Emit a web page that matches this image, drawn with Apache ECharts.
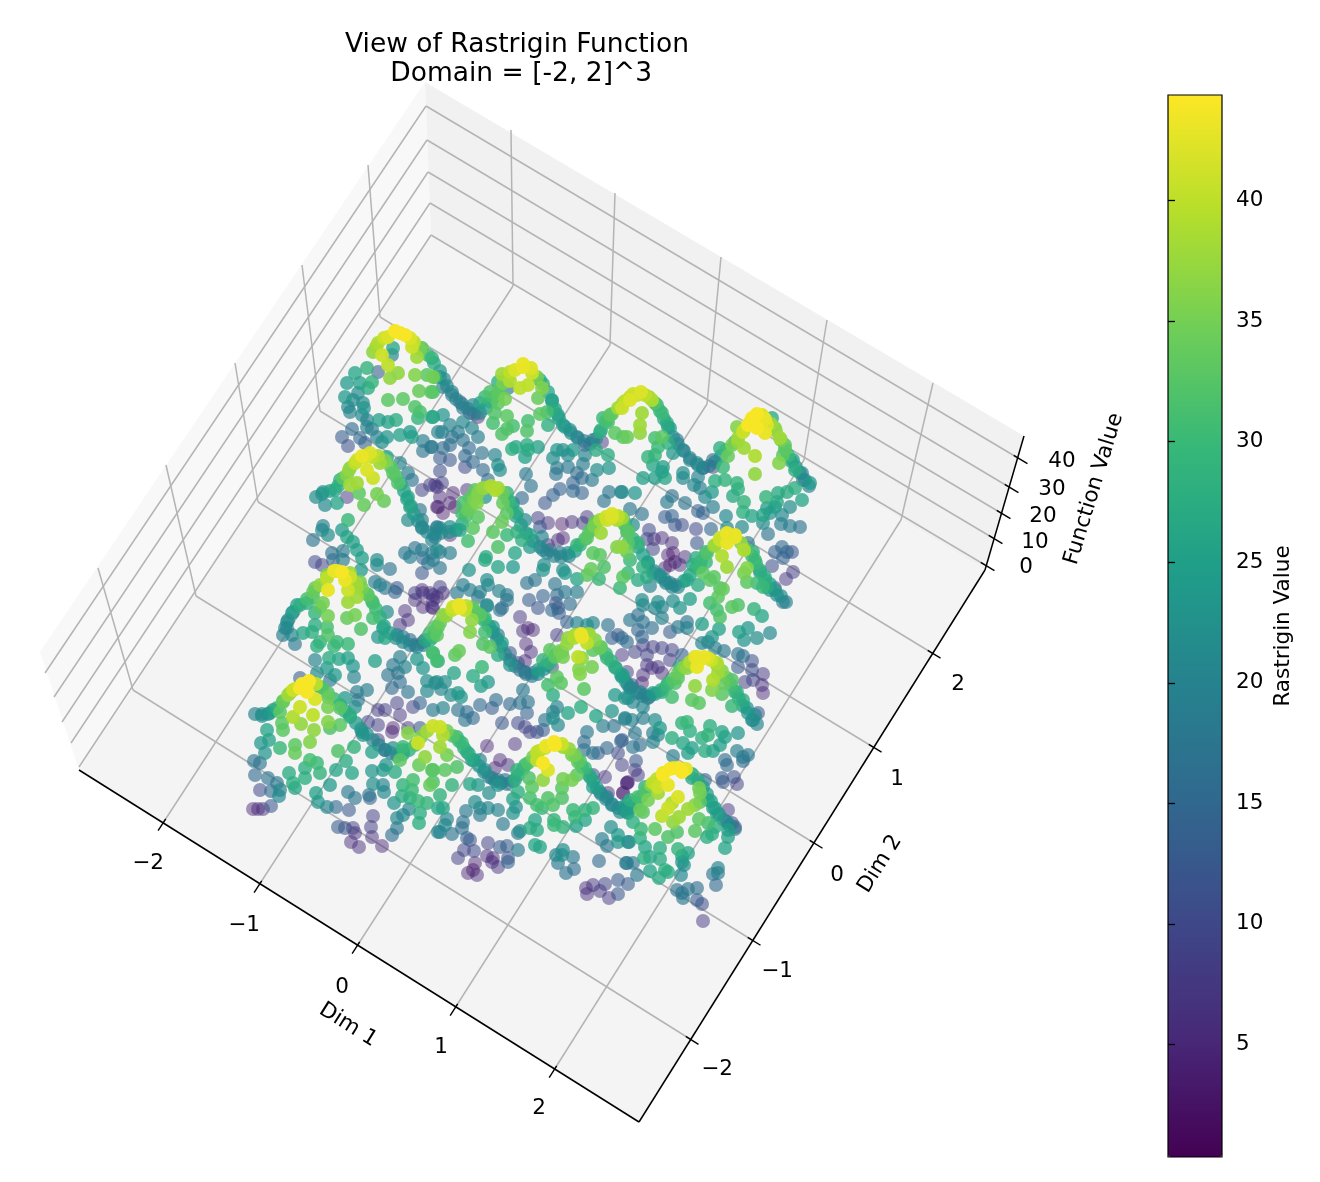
<!DOCTYPE html>
<html>
<head>
<meta charset="utf-8">
<title>Rastrigin</title>
<script src="https://cdn.jsdelivr.net/npm/echarts@6/dist/echarts.min.js"></script>
<style>
html, body { margin: 0; padding: 0; background: #fff; }
#main { width: 1320px; height: 1182px; }
</style>
</head>
<body>
<div id="main"></div>
<script>
// points: [view x, view y, function value]
let pointsTopLeft = [
[400,333,44],[388,337,42],[410,338,42],[378,343,39],[412,347,41],[373,352,37],[382,355,41],[388,365,40],[393,348,26],[392,355,20],[398,373,37],[390,378,37],[417,357,38],[422,348,33],[432,358,28],[415,375,36],[427,375,33],[435,377,30],[419,391,34],[431,392,33],[388,400,33],[403,399,33],[415,407,32],[420,412,31],[418,418,29],[432,417,27],[367,368,29],[355,373,26],[347,383,24],[360,383,25],[372,382,29],[368,388,27],[358,393,22],[345,397,24],[353,400,21],[363,403,22],[348,407,21],[364,408,23],[350,412,20],[362,415,21],[379,420,25],[388,422,25],[396,420,27],[367,420,20],[367,427,20],[372,429,18],[352,429,16],[342,437,13],[348,446,11],[360,438,15],[365,443,14],[377,437,20],[382,442,22],[387,437,23],[400,435,25],[410,432,24],[412,437,25],[423,441,19],[431,447,17],[423,451,17],[438,432,20],[378,372,13],
[365,457,42],[372,457,40],[357,460,41],[380,463,38],[367,470,42],[350,468,37],[347,475,36],[357,483,38],[350,485,38],[373,478,41],[340,480,28],[393,473,33],[398,483,32],[387,457,26],[400,463,20],[408,473,19],[412,480,17],[335,490,26],[323,492,22],[316,497,22],[325,505,21],[337,503,26],[347,497,7],[359,493,33],[377,494,35],[384,501,34],[364,505,34],[348,520,30],[323,526,20],[408,497,26],[410,507,26],[420,510,17],[408,520,22],[422,520,19],[430,485,8],[422,490,9],[437,487,7],[438,507,4],[437,527,15]
];
let pointsTopMid = [
[523,367,43],[510,372,40],[502,374,38],[532,373,41],[510,381,39],[528,385,40],[520,388,40],[542,388,36],[538,398,34],[498,382,28],[508,388,18],[540,380,26],[498,395,33],[490,392,32],[485,397,30],[505,399,35],[498,403,33],[495,413,32],[507,416,33],[493,423,31],[528,421,31],[527,431,32],[513,426,31],[507,429,32],[502,434,32],[540,414,33],[547,412,31],[480,403,25],[473,405,20],[463,408,17],[470,413,11],[478,417,5],[452,395,17],[443,387,19],[440,377,20],[433,377,35],[433,392,31],[460,402,12],[552,400,25],[553,410,27],[548,425,28],[558,415,25],[563,425,24],[570,430,21],[577,437,18],[585,445,8],[593,440,14],[602,442,7],[600,432,28],[608,422,31],[610,415,33],[603,418,30],[615,433,33],[627,437,34],[622,408,41],[630,400,42],[596,450,27],[608,455,27],[557,450,23],[563,450,22],[553,458,22],[568,455,21],[573,450,24],[585,455,20],[583,464,19],[568,467,18],[557,468,18],[556,474,17],[577,473,15],[582,478,16],[592,480,18],[597,470,22],[609,468,23],[573,483,14],[560,489,14],[553,495,14],[545,503,12],[573,491,15],[582,493,14],[609,492,18],[621,492,19],[604,501,17],
[463,422,21],[443,415,23],[433,417,24],[450,425,20],[442,432,19],[458,432,18],[472,428,20],[478,437,19],[452,437,17],[463,440,17],[450,445,16],[443,448,16],[469,448,15],[432,447,18],[465,456,15],[440,458,13],[450,460,12],[473,462,15],[465,467,10],[440,471,11],[483,470,15],[488,480,16],[482,453,17],[495,455,20],[498,465,22],[500,470,22],[512,449,28],[516,447,26],[527,445,27],[525,457,25],[538,447,25],[528,450,27],[526,474,18],[531,486,17]
];
let pointsHumpRow2Mid = [
[435,485,6],[442,483,8],[440,497,5],[453,493,4],[437,507,4],[450,503,4],[443,513,3],[455,507,3],[467,490,6],[483,488,37],[495,490,39],[475,490,33],[470,498,33],[463,503,31],[477,503,36],[462,513,31],[468,510,34],[478,517,33],[473,528,33],[460,530,25],[450,527,22],[440,528,21],[435,537,19],[450,535,4],[507,493,28],[503,503,34],[507,513,33],[502,522,34],[485,497,24],[493,532,33],[468,541,31],[507,535,30],[498,547,32],[486,557,27],[515,553,26],[522,498,15],[513,503,22],[517,513,26],[525,520,21],[538,518,8],[548,523,6],[562,524,3],[572,522,6],[587,517,7],[540,527,12],[517,532,28],[530,535,26],[522,540,28],[542,537,20],[548,545,4],[558,540,6],[563,538,4],[550,550,15],[560,553,20],[568,553,22],[543,550,20],[530,547,24],[577,545,29],[587,538,33],[583,523,8],[595,522,33],[591,530,28],[601,533,38],[612,517,42],[607,520,41],[617,520,39],[623,518,30],[627,532,31],[617,547,36],[593,553,33],[600,555,33],[440,552,17],[450,553,19],[432,553,17]
];
let pointsTopRight = [
[637,395,41],[645,395,40],[630,397,40],[652,400,39],[623,403,38],[657,405,28],[642,413,38],[640,425,38],[640,433,37],[623,437,33],[662,413,30],[667,423,27],[670,428,25],[677,440,17],[655,438,31],[662,437,33],[658,447,30],[668,443,28],[648,457,29],[655,455,29],[653,465,26],[663,467,25],[662,472,24],[643,478,25],[655,478,25],[665,478,26],[683,473,22],[683,478,21],[698,477,20],[694,485,21],[700,488,19],[673,453,24],[683,450,20],[690,460,20],[698,465,21],[703,468,16],[713,460,17],[713,467,7],[720,448,28],[728,456,34],[723,467,30],[735,442,24],[738,442,37],[744,448,38],[755,456,39],[755,474,37],
[752,418,44],[762,415,42],[748,425,44],[757,428,44],[765,433,43],[767,425,42],[743,432,41],[737,427,36],[772,418,27],[775,428,36],[780,438,38],[785,445,33],[783,455,33],[779,463,36],[793,460,25],[795,470,28],[802,473,20],[810,483,24],[803,480,14],[795,488,28],[778,493,27],[787,492,27],[766,497,29],[777,502,26],[802,500,26],[790,507,22],[767,508,24],[775,507,25],[770,513,23],[782,515,21],[763,515,26],[763,523,22],[781,524,19],[790,526,19],[800,527,17],[768,534,17],
[715,481,28],[725,480,29],[737,483,29],[738,489,28],[712,492,24],[705,497,21],[733,496,27],[744,502,29],[713,507,19],[743,512,28],[752,516,26],[726,516,21],[727,528,22],[742,527,21],[698,511,14],[703,513,14],[685,503,17],[667,502,18],[672,496,17],[630,509,18],[642,514,17],[635,493,23],[622,492,22],[665,517,13],[672,516,14],[675,525,12],[682,525,11],[696,529,10],[711,529,15],[697,543,12],[649,530,10],[647,539,9],[654,539,6],[662,538,6],[672,543,6],[653,549,9],[668,555,4],[673,553,3],[685,557,6],[675,562,3],[670,565,4],[665,568,4],[680,565,6]
];
let pointsHumpRow2Right = [
[727,535,42],[735,537,43],[720,540,41],[727,543,43],[715,545,38],[722,556,39],[744,550,39],[727,567,38],[706,552,30],[706,562,30],[696,558,28],[700,567,30],[703,573,33],[747,568,36],[744,573,35],[755,560,30],[753,552,28],[748,543,18],[710,580,33],[714,577,33],[698,585,27],[747,582,33],[757,583,30],[765,580,28],[760,572,24],[720,588,32],[767,587,27],[775,588,7],[775,552,14],[782,547,15],[787,552,14],[792,552,12],[783,558,14],[772,566,11],[793,572,8],[786,579,7],
[643,567,28],[648,562,25],[653,573,23],[660,575,22],[647,577,27],[665,580,21],[670,583,20],[675,585,18],[687,580,26],[693,565,26],[630,560,30],[638,580,27],[650,586,20],[622,547,37],[628,543,33],[628,532,33],[638,543,29],[622,518,38],[633,525,22],[625,525,27],[627,552,34]
];
let pointsMidLeft = [
[313,540,17],[322,530,21],[328,535,22],[342,530,24],[347,537,26],[353,542,25],[357,550,25],[332,553,17],[343,551,19],[362,558,25],[343,560,19],[333,560,15],[315,562,10],[322,565,8],[361,570,24],[377,560,22],[377,565,21],[390,569,17],[405,553,18],[410,557,19],[415,548,17],[422,550,19],[423,558,15],[428,563,17],[422,573,12],[433,560,19],[437,550,22],[432,540,20],[437,528,20],[422,528,20],
[337,571,43],[327,575,36],[350,573,38],[345,580,43],[328,590,43],[315,588,34],[348,590,41],[357,587,38],[360,582,35],[313,597,31],[323,603,35],[348,602,38],[320,607,33],[357,597,38],[368,595,33],[373,603,31],[307,603,28],[297,605,25],[315,613,29],[328,616,35],[347,618,34],[355,615,35],[361,629,32],[373,618,31],[292,613,21],[287,622,20],[287,628,20],[292,635,21],[283,635,19],[295,644,18],[303,633,26],[312,632,28],[315,625,27],[327,627,31],[328,635,32],[320,642,29],[317,646,28],[337,642,30],[334,646,30],[348,644,30],[315,660,20],[329,658,27],[339,659,26],[348,658,25],[353,666,23],[354,677,20],[327,668,24],[335,675,24],[317,673,22],[330,680,18],[375,661,25],
[375,582,19],[385,588,17],[395,592,14],[397,588,13],[380,585,20],[387,612,22],[383,628,25],[378,637,23],[385,638,26],[400,625,7],[405,611,6],[408,620,6],[415,593,8],[422,590,6],[430,593,7],[437,597,6],[415,600,6],[423,607,5],[432,607,6],[433,600,7],[423,593,6],[397,635,20],[403,637,19],[410,640,16],[415,645,14],[423,642,8],[430,633,31],[435,627,33],[425,640,26],[437,635,33],[433,653,31],[437,661,31],[417,659,24],[423,668,23],[400,657,19],[393,665,18],[405,667,20],[388,675,17],[398,673,17],[400,682,16],[392,688,15],[408,692,17],[427,681,22],[427,691,21],[437,682,22]
];
let pointsHumpRow4Left = [
[308,683,44],[300,688,44],[307,692,44],[293,690,41],[290,693,38],[315,699,42],[320,687,30],[283,702,34],[300,707,41],[280,712,33],[293,717,39],[313,715,40],[273,710,25],[262,714,22],[268,714,22],[301,724,37],[328,697,34],[328,707,35],[328,722,36],[314,730,37],[340,708,33],[340,725,33],[282,723,33],[283,730,33],[267,730,26],[300,678,13],[350,715,28],[330,728,32],[357,692,19],[367,690,19],[358,700,17],[355,707,22],[345,698,24],[378,710,8],[385,710,8],[400,715,7],[413,707,9],[420,703,14],[397,703,8],[393,728,4],[378,725,8],[368,722,9],[362,732,20],[408,728,7],[420,728,12],[433,710,18]
];
let pointsMidCentre = [
[460,608,43],[453,607,41],[465,610,40],[473,607,33],[443,615,36],[472,620,37],[480,615,33],[485,618,30],[438,627,33],[470,632,36],[485,632,31],[493,627,24],[433,637,30],[498,635,18],[487,605,22],[478,597,16],[500,610,17],[483,644,32],[490,647,33],[502,643,25],[498,655,27],[510,653,12],[510,665,23],[518,663,10],[525,672,17],[532,673,14],[538,670,25],[547,665,20],[543,660,29],[552,667,8],[555,655,33],[550,650,33],[562,652,33],[563,657,35],[557,677,33],[561,683,33],[548,685,31],[553,695,27],[455,655,33],[459,651,34],[433,653,31],[438,661,27],[482,667,30],[473,676,27],[488,682,24],[481,686,25],[454,673,26],[435,683,21],[445,682,22],[441,689,20],[458,693,24],[451,695,22],[461,697,23],[523,690,18],[496,700,16],[510,704,15],[480,705,15],[492,708,13],[520,703,17],[528,702,17],[527,713,14],[467,712,16],[458,710,17],[443,708,20],[465,720,17],[473,718,15],[502,723,12],[518,723,10],[525,727,9],[530,732,9],[537,732,11],[543,730,13],[545,720,17],[553,712,20],[557,707,20],[553,718,22],[558,725,21],[568,713,26],[581,707,28],[596,716,26],[612,711,23],[625,719,20],[628,698,22],[615,695,24],[603,726,19],[614,726,17],[587,732,18],[584,742,15],[584,750,17],[621,741,14],[607,748,15],[598,753,13],[593,753,17],[618,753,10],[515,744,6],[487,746,5],[500,760,5],
[485,560,27],[469,570,23],[498,567,26],[513,567,24],[487,580,22],[488,585,20],[463,585,19],[470,590,19],[457,593,18],[480,592,20],[499,591,20],[507,595,18],[507,600,17],[502,608,14],[487,606,20],[440,568,17],[440,587,8],[443,593,6],[433,595,5],[433,608,5],[527,583,17],[535,580,17],[529,600,13],[543,596,14],[538,608,12],[520,617,7],[523,631,6],[528,628,3],[533,630,5],[526,644,5],[531,652,6],[525,661,5],[555,584,17],[565,592,18],[557,595,15],[556,603,11],[552,610,15],[558,608,13],[570,604,16],[577,592,19],[559,613,13],[567,622,14],[577,623,20],[593,623,20],[608,625,17],[587,625,22],[557,635,8],[543,570,23],[544,565,22],[563,570,22],[565,573,24],[577,579,26],[587,575,33],[591,569,34],[599,579,30],[604,567,32],[620,588,30],[623,577,33],[628,573,30],
[582,637,43],[575,635,38],[568,638,37],[589,635,36],[587,643,40],[593,650,33],[600,648,34],[578,657,40],[582,658,37],[579,669,36],[580,674,36],[592,667,35],[584,689,33],[607,658,29],[615,667,27],[622,677,25],[628,685,20],[612,638,14],[618,635,12],[622,638,15],[627,672,7],[622,655,7],[627,642,16]
];
let pointsMidRight = [
[642,600,22],[643,605,21],[658,602,22],[655,608,21],[662,607,20],[680,608,23],[690,599,25],[673,601,22],[630,620,18],[638,615,16],[643,622,17],[652,628,16],[662,618,20],[638,630,14],[642,637,15],[678,627,18],[687,622,17],[687,628,20],[702,624,25],[670,632,13],[719,629,25],[712,637,23],[702,643,21],[708,642,20],[715,648,19],[724,651,18],[710,603,31],[717,610,31],[720,617,32],[732,607,33],[738,605,32],[754,609,29],[762,616,26],[739,632,25],[748,628,24],[744,640,23],[757,638,22],[770,633,21],[738,654,17],[743,656,16],[752,661,11],[738,667,13],[763,674,7],[752,670,11],[745,682,8],[753,680,9],[762,685,6],[763,693,5],[723,589,34],[718,597,33],[783,602,17],[777,595,22],[770,590,22],[763,587,30],
[695,657,42],[700,660,43],[708,658,42],[697,667,43],[717,663,39],[687,668,37],[680,667,27],[718,673,38],[713,680,39],[695,686,37],[712,690,36],[723,683,34],[722,694,33],[732,680,32],[737,692,28],[743,700,27],[747,708,24],[755,715,20],[758,713,13],[753,720,22],[732,706,30],[692,700,33],[699,703,33],[678,678,33],[675,683,32],[668,683,30],[672,697,31],[662,692,27],[653,693,24],[645,695,18],[640,692,20],[648,698,14],[630,688,17],[623,675,25],[632,685,12],[635,652,9],[643,645,8],[653,647,8],[662,648,9],[672,650,9],[670,660,8],[682,655,14],[647,655,9],[647,665,7],[652,668,5],[658,667,7],[662,673,5],[643,675,6],[642,683,4],
[625,698,23],[633,702,20],[643,707,21],[625,718,20],[632,720,20],[643,718,19],[655,720,22],[660,728,24],[635,733,18],[653,733,19],[658,735,21],[653,742,20],[672,738,28],[682,723,29],[687,722,30],[690,731,28],[710,726,28],[702,738,28],[708,735,29],[722,732,26],[725,737,25],[738,733,23],[720,745,25],[713,751,25],[705,751,27],[683,743,26],[692,748,25],[688,753,25],[737,751,19],[743,757,18],[748,755,18],[743,761,16],[725,760,16],[727,765,15],[673,756,19],[633,747,17],[640,745,16],[636,761,12],[622,740,13],[622,765,8],[635,770,7],[638,775,8],[722,778,13],[723,782,12],[734,777,11],[737,784,8],[627,783,4]
];
let pointsBottomRight = [
[682,772,44],[673,768,42],[663,775,44],[668,785,43],[653,783,40],[658,787,41],[658,793,38],[648,800,35],[678,797,42],[672,803,39],[668,808,41],[662,816,40],[673,822,37],[679,817,38],[688,809,38],[695,805,36],[700,802,33],[699,788,35],[700,793,35],[692,778,26],[705,780,15],[708,800,26],[713,808,25],[717,815,25],[727,822,20],[732,823,12],[735,827,8],[728,810,7],[699,819,33],[708,823,31],[715,827,28],[707,837,28],[695,831,33],[712,834,27],[728,830,25],[728,837,25],[677,832,32],[668,837,32],[655,829,33],[641,829,30],[640,810,34],[643,812,33],[633,822,28],[627,812,25],[638,797,31],[645,787,28],[630,800,28],[623,807,23],[623,793,4],[628,782,5],[640,838,28],[629,842,22],[645,847,26],[660,848,28],[678,849,29],[688,853,26],[682,856,25],[725,848,26],[644,858,28],[660,859,27],[650,857,26],[682,862,23],[684,865,22],[626,863,18],[633,863,17],[650,871,26],[665,870,28],[668,872,27],[659,878,27],[681,875,21],[637,875,18],[628,884,13],[718,868,20],[718,873,19],[713,874,17],[716,885,15],[677,890,17],[688,889,17],[697,888,16],[682,893,16],[683,898,18],[697,900,13],[702,904,11],[703,921,7]
];
let pointsBottomMid = [
[555,745,44],[545,748,41],[537,752,40],[543,763,44],[548,770,42],[563,747,38],[537,760,40],[543,780,37],[572,755,35],[578,762,33],[582,767,30],[577,775,33],[563,779,35],[562,788,33],[572,780,35],[562,798,32],[548,798,32],[530,798,31],[553,805,32],[537,805,31],[542,808,30],[529,778,32],[532,787,33],[525,765,30],[517,770,29],[515,780,28],[518,792,28],[513,799,25],[516,807,22],[513,813,23],[590,777,26],[593,787,25],[600,792,18],[607,797,19],[612,805,21],[620,812,22],[628,803,24],[628,813,24],[593,775,10],[605,777,7],[608,793,5],[623,793,4],[627,783,5],[593,808,29],[585,810,29],[573,810,30],[575,817,30],[585,820,26],[554,820,29],[554,825,30],[563,827,29],[576,826,25],[535,820,26],[530,828,27],[537,830,27],[520,831,22],[518,833,19],[611,827,22],[618,835,24],[602,839,19],[607,846,18],[618,842,23],[628,842,21],[535,845,26],[540,847,26],[563,850,22],[556,855,21],[562,855,22],[573,857,18],[558,863,18],[566,873,17],[574,869,16],[599,861,15],[627,863,19],[618,880,13],[605,884,9],[593,885,7],[586,888,6],[587,894,6],[600,891,7],[609,898,7],[618,894,12],
[443,735,39],[440,747,38],[447,755,35],[457,737,30],[462,743,30],[467,752,28],[472,760,26],[480,760,20],[485,770,22],[492,778,18],[498,780,20],[505,780,15],[445,770,33],[457,767,32],[433,770,32],[433,782,32],[452,785,29],[440,795,29],[443,808,26],[470,784,26],[478,785,24],[489,793,22],[498,785,23],[508,765,6],[495,768,4],[475,802,22],[480,808,20],[488,808,21],[498,810,20],[480,815,18],[466,811,18],[447,819,20],[445,825,21],[440,832,19],[452,834,17],[463,822,17],[462,828,16],[467,838,14],[470,840,11],[503,824,18],[488,843,9],[500,847,13],[507,846,13],[518,850,19],[464,850,9],[474,851,10],[458,858,8],[487,856,6],[493,858,5],[498,867,7],[492,862,5],[508,862,14],[508,858,11],[475,863,4],[473,870,3],[477,875,5],[468,873,4]
];
let pointsBottomLeft = [
[261,743,23],[269,740,25],[265,753,23],[280,748,30],[295,745,33],[295,753,34],[310,742,36],[338,751,32],[354,747,29],[310,760,31],[317,763,30],[305,768,28],[305,778,28],[320,773,29],[289,773,27],[295,788,26],[293,783,28],[336,770,26],[346,761,27],[352,773,26],[330,785,24],[254,761,17],[260,763,17],[255,775,15],[268,778,17],[277,783,18],[260,790,10],[271,791,16],[280,790,21],[279,796,21],[253,809,5],[258,809,5],[263,809,6],[271,806,12],[316,793,25],[318,802,23],[327,807,20],[336,807,15],[349,810,12],[348,792,18],[355,798,17],[369,795,17],[370,798,14],[338,827,13],[345,828,11],[355,833,6],[353,828,8],[351,842,6],[359,847,6],[373,816,8],[371,827,8],[372,837,6],[382,846,5],[392,835,16],[397,828,18],[397,818,20],[403,815,21],[409,809,21],[394,803,23],[420,813,28],[419,823,28],[372,771,23],[383,770,24],[386,765,23],[395,772,27],[373,784,22],[383,785,20],[384,792,21],[403,785,29],[413,780,31],[412,790,30],[402,796,27],[410,798,28],[418,801,30],[427,803,29],[438,808,26],[438,832,21],[430,785,34],[432,770,33],[419,765,34],[425,757,37],[400,760,33],[403,750,28],[372,752,25],[363,735,23],[418,743,41],[403,747,30],[393,748,22],[408,733,36],[385,750,18],[378,740,8],[392,732,5]
];
// the dense crests that run across the picture, one list per row of humps
let crestRow1 = [
[405,335,44],[395,331,44],[384,338,41],[376,347,38],[414,342,40],[420,349,35],[428,355,30],[434,363,27],[440,371,23],[444,379,22],[447,386,21],[452,392,20],[456,399,20],[462,404,20],[468,409,19],[474,414,17],[480,413,20],[486,408,24],[491,402,28],[494,397,31],[499,390,33],[503,383,35],[508,376,38],[515,370,42],[523,364,43],[531,368,42],[537,377,35],[543,384,28],[548,392,26],[552,401,25],[555,409,26],[559,418,25],[565,427,23],[571,433,22],[578,438,20],[584,441,19],[590,444,18],[596,439,21],[601,430,26],[606,421,31],[612,414,33],[618,408,38],[625,401,40],[633,394,41],[641,392,42],[649,397,38],[655,403,32],[660,411,30],[664,419,27],[668,427,24],[673,437,22],[678,444,21],[684,451,20],[690,458,20],[697,463,20],[703,468,19],[709,466,18],[715,462,19],[721,456,23],[726,450,30],[732,445,35],[738,438,38],[744,430,41],[750,422,44],[757,414,44],[765,419,43],[771,424,38],[776,431,37],[781,440,35],[785,449,33],[788,455,30],[791,461,26],[796,467,24],[800,473,22],[805,480,21],[809,486,20]
];
let crestRow2 = [
[322,494,23],[330,491,25],[338,486,28],[343,478,33],[349,470,37],[355,463,40],[362,456,43],[370,453,42],[378,456,39],[385,461,36],[391,467,33],[396,476,31],[401,484,27],[404,491,25],[407,499,25],[411,506,24],[414,514,24],[418,521,22],[422,527,21],[427,532,21],[434,534,20],[441,533,21],[449,532,22],[456,530,23],[462,524,26],[466,516,31],[470,508,34],[474,500,35],[478,493,36],[484,488,37],[491,486,39],[498,488,38],[503,493,34],[508,500,30],[512,507,28],[516,516,26],[521,525,24],[526,533,23],[533,541,22],[540,547,21],[547,553,20],[554,556,20],[561,557,20],[569,556,21],[575,551,24],[580,545,29],[585,539,31],[589,532,33],[594,526,35],[600,520,38],[606,517,41],[612,514,42],[618,516,40],[623,522,33],[628,530,31],[633,539,28],[638,547,26],[643,555,25],[648,563,23],[654,571,22],[660,577,21],[666,583,21],[672,587,20],[678,587,21],[684,581,24],[690,575,26],[696,568,29],[701,561,30],[707,553,32],[714,546,36],[720,538,41],[727,533,43],[735,535,43],[741,543,37],[747,550,32],[752,556,30],[756,563,30],[760,570,28],[765,577,27],[770,584,25],[775,590,24],[781,596,22],[786,602,20]
];
let crestRow3 = [
[285,628,21],[288,620,22],[293,612,25],[300,605,28],[307,599,31],[313,592,34],[320,585,37],[327,578,40],[334,571,43],[342,572,44],[350,577,41],[356,583,38],[362,588,35],[367,594,33],[372,601,31],[376,609,30],[380,617,28],[384,626,26],[390,633,23],[396,638,22],[403,642,21],[410,645,20],[417,647,19],[424,645,21],[430,640,27],[435,632,31],[440,623,34],[446,616,37],[452,610,40],[459,605,43],[466,606,40],[473,610,33],[479,614,30],[484,620,27],[489,626,25],[493,632,23],[497,639,22],[501,646,21],[505,654,20],[510,660,19],[515,666,18],[520,670,17],[526,674,18],[532,676,19],[538,674,21],[544,669,24],[550,663,29],[555,657,33],[560,651,35],[567,644,37],[574,638,39],[581,634,43],[589,634,38],[595,640,36],[601,647,32],[606,654,30],[611,661,28],[616,668,26],[621,675,24],[626,682,22],[631,688,21],[637,693,20],[643,696,19],[649,697,20],[655,694,23],[661,690,27],[667,685,30],[673,679,32],[678,673,34],[684,667,36],[690,662,39],[697,657,43],[704,657,43],[711,660,41],[717,665,38],[722,671,36],[727,678,33],[731,685,31],[735,692,29],[739,699,27],[743,706,25],[748,713,23],[752,720,21],[757,724,20]
];
let crestRow4 = [
[255,714,20],[262,716,22],[270,713,24],[277,708,28],[283,701,33],[288,695,38],[295,689,41],[302,684,44],[309,681,44],[316,684,40],[322,688,32],[328,693,32],[334,699,30],[340,705,28],[345,711,27],[350,717,26],[356,723,24],[361,729,23],[367,734,22],[373,740,21],[379,745,20],[385,750,19],[391,753,19],[397,756,20],[403,754,24],[409,750,28],[415,745,32],[421,737,36],[427,731,38],[433,726,41],[440,727,41],[447,731,35],[453,736,32],[459,741,30],[464,748,28],[469,754,27],[474,760,25],[479,766,23],[484,772,21],[489,777,20],[495,781,19],[501,783,18],[507,784,19],[513,781,21],[518,775,25],[523,769,29],[528,763,32],[533,757,35],[539,751,40],[546,746,43],[554,742,44],[562,744,41],[569,749,37],[575,755,35],[580,761,32],[585,768,30],[589,775,27],[593,781,25],[597,788,24],[601,794,22],[606,799,21],[612,804,20],[618,808,20],[624,810,19],[630,808,22],[636,803,27],[641,797,30],[646,791,32],[651,785,36],[657,779,40],[663,773,43],[670,769,44],[678,768,44],[686,769,43],[692,774,28],[698,780,26],[703,787,25],[707,794,24],[711,801,25],[715,808,24],[719,814,22],[724,820,21],[729,825,20],[735,829,18]
];

// axis ticks and labels
let dim1Labels = ['\u22122', '\u22121', '0', '1', '2'];
let dim2Labels = ['\u22122', '\u22121', '0', '1', '2'];
let valueLabels = ['0', '10', '20', '30', '40'];
let colorbarTicks = [5, 10, 15, 20, 25, 30, 35, 40];
let viridis = ['#440154', '#482878', '#3e4989', '#31688e', '#26828e', '#1f9e89', '#35b779', '#6ece58', '#b5de2b', '#fde725'];

// box geometry in the same view coordinates as the points
let floorPane = [[79, 770], [639, 1122], [985, 570], [431, 235]];
let leftPane = [[79, 770], [40, 652], [425, 82], [431, 235]];
let rightPane = [[431, 235], [425, 82], [1024, 436], [985, 570]];
let dim1Front = [[163, 823], [259, 885], [357, 946], [455, 1008], [554, 1070]];
let dim1Back = [[513, 286], [610, 345], [707, 404], [804, 460], [901, 520]];
let dim1Top = [[511, 130], [615, 193], [721, 257], [827, 320], [933, 383]];
let dim2Front = [[690, 1039], [752, 940], [814, 843], [873, 747], [932, 653]];
let dim2Back = [[133, 690], [196, 596], [258, 502], [320, 411], [380, 317]];
let dim2Top = [[98, 568], [166, 465], [235, 363], [302, 265], [368, 165]];
let levelLeft = [[79, 767], [71, 743], [62, 722], [54, 697], [45, 673]];
let levelBack = [[431, 235], [430, 203], [428, 172], [427, 140], [426, 106]];
let levelRight = [[985, 565], [993, 538], [1001, 513], [1009, 487], [1018, 458]];
let dim1LabelPos = [[148, 863], [244, 925], [342, 987], [441, 1047], [539, 1108]];
let dim2LabelPos = [[717, 1069], [777, 971], [837, 875], [897, 779], [958, 684]];
let valueLabelPos = [[1026, 567], [1035, 542], [1043, 516], [1052, 489], [1062, 461]];

let allPoints = [].concat(pointsTopLeft, pointsTopMid, pointsHumpRow2Mid, pointsTopRight, pointsHumpRow2Right, pointsMidLeft, pointsHumpRow4Left, pointsMidCentre, pointsMidRight, pointsBottomRight, pointsBottomMid, pointsBottomLeft, crestRow1, crestRow2, crestRow3, crestRow4);
// higher points sit nearer the camera, so they are drawn last
allPoints.sort(function (a, b) { return a[2] - b[2]; });

const TEXT_FONT = '21.5px "DejaVu Sans"';
const GRID_COLOR = '#b4b4b4';

function renderFrame(params, api) {
    let pt = function (p) { return api.coord(p); };
    let kids = [];
    let pane = function (corners, fill) {
        kids.push({ type: 'polygon', shape: { points: corners.map(pt) }, style: { fill: fill } });
    };
    let seg = function (a, b, color, width) {
        let p = pt(a), q = pt(b);
        kids.push({ type: 'line', shape: { x1: p[0], y1: p[1], x2: q[0], y2: q[1] }, style: { stroke: color, lineWidth: width } });
    };
    let label = function (pos, text, rotate, font) {
        let p = pt(pos);
        kids.push({
            type: 'text', x: p[0], y: p[1], rotation: (rotate || 0) * Math.PI / 180,
            style: { text: text, font: font || TEXT_FONT, fill: '#000', align: 'center', verticalAlign: 'middle' }
        });
    };
    // tick: short stub through the point along the direction of its grid line
    let tick = function (p, other, inner, outer) {
        let dx = other[0] - p[0], dy = other[1] - p[1];
        let len = Math.sqrt(dx * dx + dy * dy);
        dx /= len; dy /= len;
        seg([p[0] + dx * inner, p[1] + dy * inner], [p[0] - dx * outer, p[1] - dy * outer], '#000', 1.4);
    };

    pane(leftPane, '#f8f8f8');
    pane(rightPane, '#f1f1f1');
    pane(floorPane, '#f4f4f4');

    dim1Front.forEach(function (p, i) {
        seg(p, dim1Back[i], GRID_COLOR, 1.5);
        seg(dim1Back[i], dim1Top[i], GRID_COLOR, 1.5);
    });
    dim2Front.forEach(function (p, i) {
        seg(p, dim2Back[i], GRID_COLOR, 1.5);
        seg(dim2Back[i], dim2Top[i], GRID_COLOR, 1.5);
    });
    levelBack.forEach(function (p, i) {
        seg(levelLeft[i], p, GRID_COLOR, 1.5);
        seg(p, levelRight[i], GRID_COLOR, 1.5);
    });

    // black axis edges
    seg(floorPane[0], floorPane[1], '#000', 1.5);
    seg(floorPane[1], floorPane[2], '#000', 1.5);
    seg(floorPane[2], rightPane[2], '#000', 1.5);
    dim1Front.forEach(function (p, i) { tick(p, dim1Back[i], 5, 9); });
    dim2Front.forEach(function (p, i) { tick(p, dim2Back[i], 5, 10); });
    levelRight.forEach(function (p, i) { tick(p, levelBack[i], 5, 11); });

    dim1Labels.forEach(function (t, i) { label(dim1LabelPos[i], t); });
    dim2Labels.forEach(function (t, i) { label(dim2LabelPos[i], t); });
    valueLabels.forEach(function (t, i) { label(valueLabelPos[i], t); });
    label([348, 1025], 'Dim 1', -32);
    label([880, 864], 'Dim 2', 58);
    label([1094, 489], 'Function Value', 73);

    return { type: 'group', children: kids };
}

let chart = echarts.init(document.getElementById('main'));
chart.setOption({
    animation: false,
    backgroundColor: '#ffffff',
    title: {
        text: 'View of Rastrigin Function\n Domain = [-2, 2]^3',
        left: 512,
        top: 26,
        textAlign: 'center',
        textStyle: { fontFamily: 'DejaVu Sans', fontSize: 26.5, fontWeight: 'normal', color: '#000', lineHeight: 29 }
    },
    grid: [
        { left: 0, top: 0, width: 1320, height: 1182 },
        { left: 1168, top: 95, width: 54, height: 1062, show: true, borderColor: '#000', borderWidth: 1.2, backgroundColor: 'transparent', z: 6 }
    ],
    xAxis: [
        { type: 'value', gridIndex: 0, min: 0, max: 1320, show: false },
        { type: 'value', gridIndex: 1, min: 0, max: 1, show: false }
    ],
    yAxis: [
        { type: 'value', gridIndex: 0, min: 0, max: 1182, inverse: true, show: false },
        {
            type: 'value',
            gridIndex: 1,
            position: 'right',
            min: 0.33,
            max: 44.38,
            z: 6,
            splitLine: { show: false },
            axisLine: { show: false },
            axisTick: { show: true, length: 7, customValues: colorbarTicks, lineStyle: { color: '#000', width: 1.3 } },
            axisLabel: { customValues: colorbarTicks, color: '#000', fontFamily: 'DejaVu Sans', fontSize: 21.5, margin: 14 },
            name: 'Rastrigin Value',
            nameLocation: 'middle',
            nameRotate: 90,
            nameGap: 50,
            nameTextStyle: { color: '#000', fontFamily: 'DejaVu Sans', fontSize: 21.5 }
        }
    ],
    visualMap: [
        {
            type: 'continuous',
            seriesIndex: 1,
            dimension: 2,
            min: 0.33,
            max: 44.38,
            left: 1168,
            top: 95,
            padding: 0,
            itemWidth: 54,
            itemHeight: 1062,
            calculable: false,
            hoverLink: false,
            text: null,
            z: 1,
            inRange: { color: viridis }
        },
        {
            type: 'continuous',
            show: false,
            seriesIndex: 1,
            dimension: 2,
            min: 0.33,
            max: 44.38,
            inRange: { opacity: [0.42, 1] }
        }
    ],
    series: [
        {
            type: 'custom',
            xAxisIndex: 0,
            yAxisIndex: 0,
            silent: true,
            clip: false,
            z: 1,
            renderItem: renderFrame,
            data: [[0, 0]]
        },
        {
            type: 'scatter',
            xAxisIndex: 0,
            yAxisIndex: 0,
            silent: true,
            z: 2,
            symbolSize: 14,
            data: allPoints
        }
    ]
});
</script>
</body>
</html>
